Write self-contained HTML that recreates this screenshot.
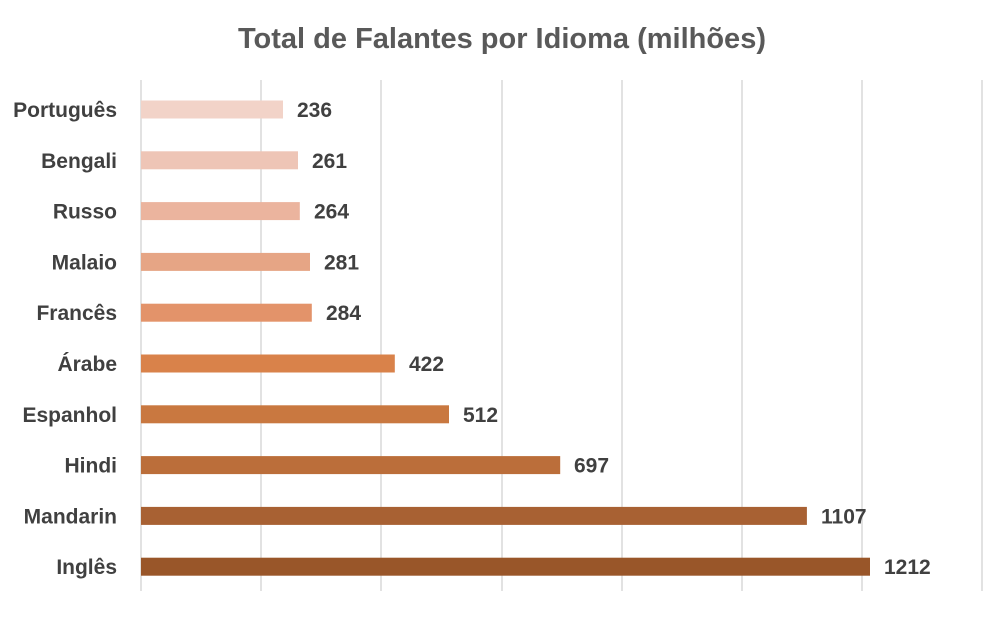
<!DOCTYPE html><html><head><meta charset="utf-8"><style>body{margin:0;background:#fff}</style></head><body>
<svg width="1000" height="613" xmlns="http://www.w3.org/2000/svg" font-family="Liberation Sans, sans-serif" font-weight="bold">
<text x="502" y="48" text-anchor="middle" font-size="29" fill="#595959">Total de Falantes por Idioma (milhões)</text>
<g stroke="#d9d9d9" stroke-width="1.5">
<line x1="141" y1="80" x2="141" y2="591"/><line x1="261" y1="80" x2="261" y2="591"/><line x1="381" y1="80" x2="381" y2="591"/><line x1="502" y1="80" x2="502" y2="591"/><line x1="622" y1="80" x2="622" y2="591"/><line x1="742" y1="80" x2="742" y2="591"/><line x1="862" y1="80" x2="862" y2="591"/><line x1="982" y1="80" x2="982" y2="591"/>
</g>
<rect x="141" y="100.5" width="142" height="18" fill="#f2d3c8"/>
<rect x="141" y="151.3" width="157" height="18" fill="#eec5b6"/>
<rect x="141" y="202.1" width="158.8" height="18" fill="#ebb49e"/>
<rect x="141" y="252.9" width="169" height="18" fill="#e6a585"/>
<rect x="141" y="303.7" width="170.8" height="18" fill="#e3936a"/>
<rect x="141" y="354.5" width="253.8" height="18" fill="#d9824a"/>
<rect x="141" y="405.3" width="308" height="18" fill="#c97840"/>
<rect x="141" y="456.1" width="419.2" height="18" fill="#bb6e3a"/>
<rect x="141" y="506.9" width="665.9" height="18" fill="#a86133"/>
<rect x="141" y="557.7" width="729" height="18" fill="#995629"/>
<g font-size="21" fill="#404040" text-anchor="end">
<text x="117" y="117">Português</text>
<text x="117" y="167.8">Bengali</text>
<text x="117" y="218.6">Russo</text>
<text x="117" y="269.4">Malaio</text>
<text x="117" y="320.2">Francês</text>
<text x="117" y="371">Árabe</text>
<text x="117" y="421.8">Espanhol</text>
<text x="117" y="472.6">Hindi</text>
<text x="117" y="523.4">Mandarin</text>
<text x="117" y="574.2">Inglês</text>
</g>
<g font-size="21" fill="#404040">
<text x="297" y="117">236</text>
<text x="312" y="167.8">261</text>
<text x="314" y="218.6">264</text>
<text x="324" y="269.4">281</text>
<text x="326" y="320.2">284</text>
<text x="409" y="371">422</text>
<text x="463" y="421.8">512</text>
<text x="574" y="472.6">697</text>
<text x="821" y="523.4">1107</text>
<text x="884" y="574.2">1212</text>
</g>
</svg></body></html>
